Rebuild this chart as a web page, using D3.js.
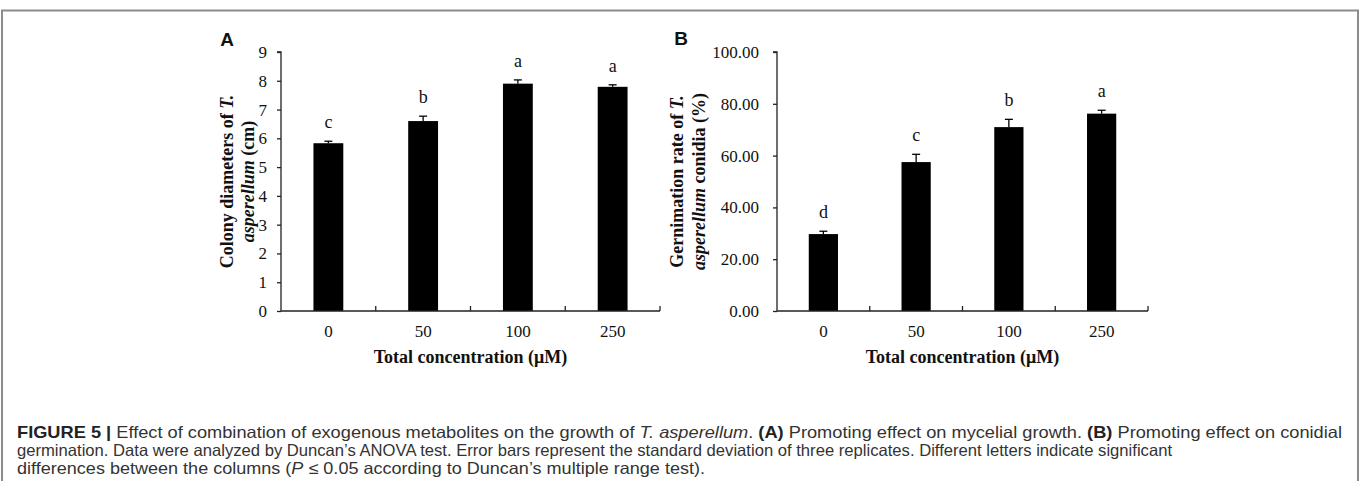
<!DOCTYPE html>
<html>
<head>
<meta charset="utf-8">
<script src="https://cdn.jsdelivr.net/npm/d3@7"></script>
<style>
  html, body { margin: 0; padding: 0; background: #fff; }
  svg { display: block; }
</style>
</head>
<body>
<svg id="chart" width="1360" height="481"></svg>
<script>
// ---------- data ----------
const categories = ["0", "50", "100", "250"];

const colonyDiameter = [5.83, 6.60, 7.90, 7.79];
const colonyError    = [0.07, 0.17, 0.13, 0.07];
const colonyLetters  = ["c", "b", "a", "a"];
const colonyTicks    = [0, 1, 2, 3, 4, 5, 6, 7, 8, 9];

const germRate    = [29.7, 57.5, 71.0, 76.2];
const germError   = [1.1, 3.0, 3.0, 1.3];
const germLetters = ["d", "c", "b", "a"];
const germTicks   = [0, 20, 40, 60, 80, 100];

const xTitle = "Total concentration (\u03bcM)";

const svg = d3.select("#chart");
const serif = "'Liberation Serif', 'Times New Roman', serif";
const sans = "'Liberation Sans', Arial, sans-serif";

// frame
const frame = svg.append("g").attr("stroke", "#8c8c8c").attr("stroke-width", 2).attr("fill", "none");
frame.append("path").attr("d", "M2,481 V10.5 H1358 V481");

function panel(opts) {
  const g = svg.append("g");
  const x = d3.scaleBand().domain(categories).range(opts.xRange).padding(0);
  const y = d3.scaleLinear().domain([0, opts.yMax]).range([311, 52]);
  const bw = x.bandwidth() * 0.315;

  // bars
  g.selectAll("rect.bar").data(opts.values).join("rect")
    .attr("x", (d, i) => x(categories[i]) + x.bandwidth() / 2 - bw / 2)
    .attr("y", d => y(d))
    .attr("width", bw)
    .attr("height", d => y(0) - y(d))
    .attr("fill", "#000");

  // error bars (upper)
  opts.values.forEach((v, i) => {
    const cx = x(categories[i]) + x.bandwidth() / 2;
    const top = y(v + opts.errors[i]);
    g.append("line").attr("x1", cx).attr("x2", cx).attr("y1", y(v)).attr("y2", top)
      .attr("stroke", "#000").attr("stroke-width", 1.3);
    g.append("line").attr("x1", cx - 4).attr("x2", cx + 4).attr("y1", top).attr("y2", top)
      .attr("stroke", "#000").attr("stroke-width", 1.3);
    g.append("text").attr("x", cx).attr("y", top - 13)
      .attr("text-anchor", "middle").attr("font-family", serif).attr("font-size", 18)
      .attr("fill", "#111").text(opts.letters[i]);
  });

  // y axis
  const ya = d3.axisLeft(y).tickValues(opts.ticks).tickSize(4).tickPadding(opts.tickPad)
    .tickFormat(opts.fmt);
  const yg = g.append("g").attr("transform", `translate(${opts.xRange[0]},0)`).call(ya);
  yg.select(".domain").attr("stroke", "#222").attr("stroke-width", 1.3).attr("d", `M-4,${y(opts.yMax)}H0V${y(0)}`);
  yg.selectAll(".tick line").attr("stroke", "#222").attr("stroke-width", 1.3);
  yg.selectAll(".tick text").attr("font-family", serif).attr("font-size", 17).attr("fill", "#111");

  // x axis
  const x0 = opts.xRange[0], x1 = opts.xRange[1];
  g.append("line").attr("x1", x0).attr("x2", x1).attr("y1", y(0)).attr("y2", y(0))
    .attr("stroke", "#222").attr("stroke-width", 1.3);
  const bounds = categories.map(c => x(c)).concat([x1]).slice(1);
  bounds.forEach(b => {
    g.append("line").attr("x1", b).attr("x2", b).attr("y1", y(0)).attr("y2", y(0) - 5)
      .attr("stroke", "#222").attr("stroke-width", 1.3);
  });
  categories.forEach(c => {
    g.append("text").attr("x", x(c) + x.bandwidth() / 2).attr("y", 337)
      .attr("text-anchor", "middle").attr("font-family", serif).attr("font-size", 17)
      .attr("fill", "#111").text(c);
  });
  g.append("text").attr("x", (x0 + x1) / 2).attr("y", 363)
    .attr("text-anchor", "middle").attr("font-family", serif).attr("font-size", 18)
    .attr("font-weight", "bold").attr("fill", "#111").text(xTitle);

  // y title (two lines)
  const cy = (y(0) + y(opts.yMax)) / 2;
  opts.yTitle.forEach((parts, li) => {
    const t = g.append("text")
      .attr("transform", `translate(${opts.yTitleX[li]},${cy}) rotate(-90)`)
      .attr("dy", "0.35em").attr("text-anchor", "middle")
      .attr("font-family", serif).attr("font-size", 18).attr("font-weight", "bold").attr("fill", "#111");
    parts.forEach(p => t.append("tspan").attr("font-style", p[1] ? "italic" : "normal").text(p[0]));
  });

  // panel letter
  g.append("text").attr("x", opts.letterPos[0]).attr("y", opts.letterPos[1])
    .attr("text-anchor", "middle").attr("font-family", sans).attr("font-weight", "bold")
    .attr("font-size", 19).attr("fill", "#111").text(opts.panelLetter);
}

panel({
  xRange: [281, 660], yMax: 9, values: colonyDiameter, errors: colonyError,
  letters: colonyLetters, ticks: colonyTicks, fmt: d3.format("d"), tickPad: 10,
  yTitle: [[["Colony diameters of ", false], ["T.", true]], [["asperellum", true], [" (cm)", false]]],
  yTitleX: [227, 248], panelLetter: "A", letterPos: [227, 46]
});

panel({
  xRange: [777, 1148], yMax: 100, values: germRate, errors: germError,
  letters: germLetters, ticks: germTicks, fmt: d3.format(".2f"), tickPad: 14,
  yTitle: [[["Gernimation rate of ", false], ["T.", true]], [["asperellum", true], [" conidia (%)", false]]],
  yTitleX: [677, 699], panelLetter: "B", letterPos: [681, 45]
});

// caption
const capFont = "'Liberation Sans Narrow', 'Liberation Sans', Arial, sans-serif";
const captionLines = [
  [["FIGURE 5 | ", "b"], ["Effect of combination of exogenous metabolites on the growth of ", ""], ["T. asperellum", "i"], [". ", ""], ["(A)", "b"], [" Promoting effect on mycelial growth. ", ""], ["(B)", "b"], [" Promoting effect on conidial", ""]],
  [["germination. Data were analyzed by Duncan\u2019s ANOVA test. Error bars represent the standard deviation of three replicates. Different letters indicate significant", ""]],
  [["differences between the columns (", ""], ["P", "i"], [" \u2264 0.05 according to Duncan\u2019s multiple range test).", ""]]
];
const captionWidths = [1325, 1155, 688];
const captionY = [438, 456, 474];
captionLines.forEach((line, i) => {
  const t = svg.append("text").attr("x", 17).attr("y", captionY[i])
    .attr("font-family", capFont).attr("font-size", 16.5).attr("fill", "#333")
    .attr("textLength", captionWidths[i]).attr("lengthAdjust", "spacingAndGlyphs");
  line.forEach(p => {
    t.append("tspan")
      .attr("font-weight", p[1] === "b" ? "bold" : "normal")
      .attr("font-style", p[1] === "i" ? "italic" : "normal")
      .attr("fill", p[1] === "b" ? "#222" : "#333")
      .text(p[0]);
  });
});
</script>
</body>
</html>
